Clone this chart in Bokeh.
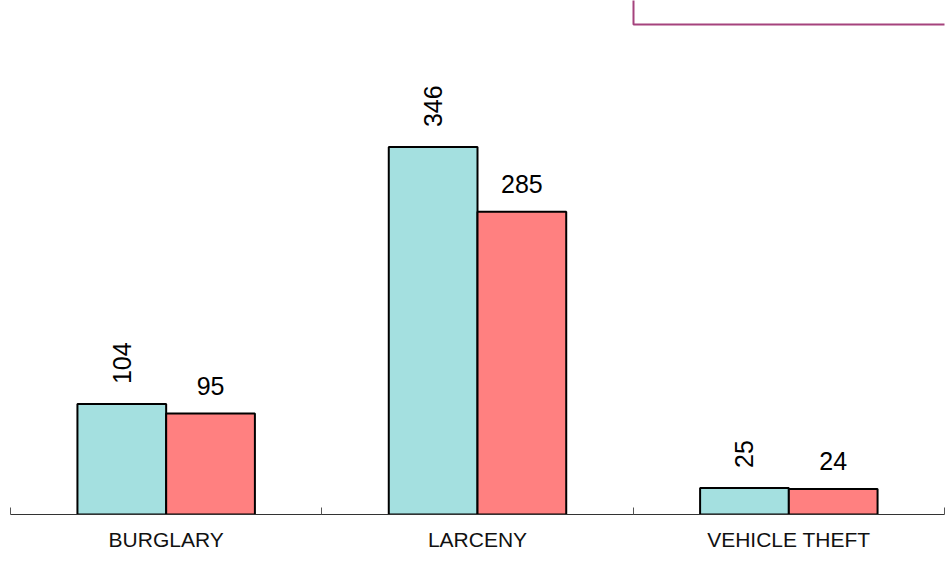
from math import pi
from bokeh.plotting import figure
from bokeh.models import ColumnDataSource, FixedTicker, Range1d, BoxAnnotation
from bokeh.transform import dodge
from bokeh.core.properties import value
from bokeh.embed import file_html
from bokeh.resources import INLINE

categories = ["BURGLARY", "LARCENY", "VEHICLE THEFT"]
series_a = [104, 346, 25]
series_b = [95, 285, 24]

FONT = "Liberation Sans"
xpos = [i + 0.5 for i in range(len(categories))]
src = ColumnDataSource(dict(x=xpos, a=series_a, b=series_b,
                            la=[str(v) for v in series_a],
                            lb=[str(v) for v in series_b]))

p = figure(width=951, height=564, output_backend="svg", toolbar_location=None,
           x_range=Range1d(0, len(categories)), y_range=Range1d(0, 484),
           min_border_left=10, min_border_right=7, min_border_top=0, min_border_bottom=50)
p.outline_line_color = None
p.xgrid.visible = False
p.ygrid.visible = False
p.yaxis.visible = False

bw = 0.285
p.vbar(x=dodge("x", -bw / 2, range=p.x_range), top="a", width=bw, source=src,
       fill_color="#a4e0e0", line_color="black", line_width=2)
p.vbar(x=dodge("x", bw / 2, range=p.x_range), top="b", width=bw, source=src,
       fill_color="#ff8080", line_color="black", line_width=2)

p.text(x=dodge("x", -bw / 2, range=p.x_range), y="a", text="la", source=src,
       angle=pi / 2, text_align="left", text_baseline="middle", y_offset=-20,
       text_font=value(FONT), text_font_size="25px", text_color="black")
p.text(x=dodge("x", bw / 2, range=p.x_range), y="b", text="lb", source=src,
       text_align="center", text_baseline="alphabetic", y_offset=-28,
       text_font=value(FONT), text_font_size="25px", text_color="black")

ax = p.xaxis[0]
ax.ticker = FixedTicker(ticks=xpos, minor_ticks=list(range(len(categories) + 1)))
ax.major_label_overrides = {x: c for x, c in zip(xpos, categories)}
ax.major_tick_line_color = None
ax.minor_tick_in = 7
ax.minor_tick_out = 0
ax.minor_tick_line_color = "#555555"
ax.minor_tick_line_width = 1
ax.axis_line_color = "#333333"
ax.major_label_text_font = FONT
ax.major_label_text_font_size = "21px"
ax.major_label_text_color = "#111111"
ax.major_label_standoff = 7

box = BoxAnnotation(left=623, right=1200, top=700, bottom=490,
                    left_units="screen", right_units="screen",
                    top_units="screen", bottom_units="screen",
                    fill_color=None, fill_alpha=0, line_color="#a5437d",
                    line_alpha=1, line_width=2)
p.add_layout(box)

open("out.html", "w").write(file_html(p, INLINE))
